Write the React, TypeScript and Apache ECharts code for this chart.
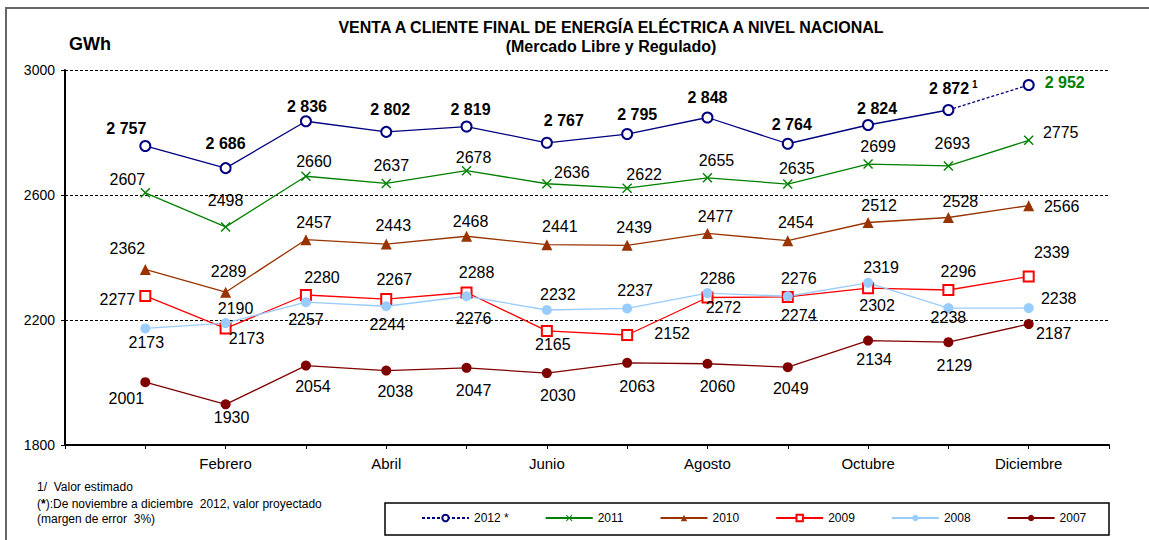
import React, { useEffect, useRef } from "react";
import * as echarts from "echarts";

const FONT = "'Liberation Sans', Arial, Helvetica, sans-serif";

const months = ["Enero", "Febrero", "Marzo", "Abril", "Mayo", "Junio", "Julio", "Agosto", "Septiembre", "Octubre", "Noviembre", "Diciembre"];
const yTicks = [1800, 2200, 2600, 3000];

// 2012: Jan–Nov real/estimated, Dec projected
const v2012 = [2757, 2686, 2836, 2802, 2819, 2767, 2795, 2848, 2764, 2824, 2872, 2952];
const v2011 = [2607, 2498, 2660, 2637, 2678, 2636, 2622, 2655, 2635, 2699, 2693, 2775];
const v2010 = [2362, 2289, 2457, 2443, 2468, 2441, 2439, 2477, 2454, 2512, 2528, 2566];
const v2009 = [2277, 2173, 2280, 2267, 2288, 2165, 2152, 2272, 2274, 2302, 2296, 2339];
const v2008 = [2173, 2190, 2257, 2244, 2276, 2232, 2237, 2286, 2276, 2319, 2238, 2238];
const v2007 = [2001, 1930, 2054, 2038, 2047, 2030, 2063, 2060, 2049, 2134, 2129, 2187];

// label offsets (style only)
const off2012 = [[-19, -17], [0, -25], [1, -15], [4, -22], [4, -17], [17, -22], [10, -20], [0, -20], [4, -19], [9, -17], [5, -22], [36, -3]];
const off2011 = [[-18, -13], [0, -26], [8, -15], [5, -18], [7, -13], [25, -11], [17, -14], [9, -17], [9, -16], [10, -18], [4, -22], [32, -8]];
const off2010 = [[-18, -21], [3, -21], [8, -17], [7, -19], [4, -15], [13, -18], [7, -18], [8, -17], [8, -18], [11, -17], [12, -16], [33, 1]];
const off2009 = [[-28, 4], [21, 10], [16, -18], [8, -20], [10, -20], [6, 14], [45, -2], [16, 10], [11, 19], [9, 17], [10, -19], [23, -24]];
const off2008 = [[1, 14], [10, -15], [0, 17], [1, 18], [7, 22], [11, -16], [8, -18], [10, -15], [11, -18], [13, -15], [0, 9], [30, -10]];
const off2007 = [[-19, 16], [6, 13], [7, 21], [9, 21], [7, 23], [11, 22], [10, 24], [10, 23], [3, 21], [6, 19], [6, 23], [25, 9]];

const fmtThousands = (v: number) => {
  const s = String(Math.round(v));
  return s.length > 3 ? s.slice(0, s.length - 3) + " " + s.slice(s.length - 3) : s;
};

const X_PATH = "path://M1,0 L5,4 L9,0 L10,1 L6,5 L10,9 L9,10 L5,6 L1,10 L0,9 L4,5 L0,1 Z";

function buildData(values: number[], offsets: number[][], from = 0, to = values.length) {
  const out: any[] = [];
  for (let i = from; i < to; i++) {
    out.push({ value: [i + 1, values[i]], label: { offset: offsets[i] } });
  }
  return out;
}

export default function App() {
  const ref = useRef<HTMLDivElement>(null);

  useEffect(() => {
    if (!ref.current) return;
    const chart = echarts.init(ref.current, undefined, { renderer: "svg" });

    const baseLabel = {
      show: true,
      position: "inside",
      fontSize: 16,
      fontFamily: FONT,
      color: "#000",
      align: "center",
      verticalAlign: "middle",
    };

    const lineSeries = (name: string, values: number[], offsets: number[][], color: string, symbol: string, symbolSize: number, extra: any = {}) => ({
      name,
      type: "line",
      data: buildData(values, offsets),
      symbol,
      symbolSize,
      lineStyle: { color, width: 1.3 },
      itemStyle: { color, borderColor: color, borderWidth: 1.3 },
      label: { ...baseLabel, formatter: (p: any) => String(p.value[1]) },
      emphasis: { disabled: true },
      ...extra,
    });

    const data2012solid = buildData(v2012, off2012, 0, 11);
    const data2012dash = [
      { value: [11, v2012[10]], symbol: "none", label: { show: false } },
      { value: [12, v2012[11]], label: { offset: off2012[11], color: "#008000" } },
    ];

    const label2012 = {
      ...baseLabel,
      fontWeight: "bold",
      formatter: (p: any) =>
        p.dataIndex === 10 ? `{b|${fmtThousands(p.value[1])}}{s|1}` : fmtThousands(p.value[1]),
      rich: {
        b: { fontSize: 16, fontWeight: "bold", fontFamily: FONT, color: "#000", lineHeight: 18 },
        s: { fontSize: 10, fontWeight: "bold", fontFamily: FONT, color: "#000", verticalAlign: "top", padding: [0, 0, 0, 3] },
      },
    };

    const option: any = {
      animation: false,
      backgroundColor: "#fff",
      grid: { left: 65, right: 40, top: 70, bottom: 95, containLabel: false },
      xAxis: {
        type: "value",
        min: 0,
        max: 13,
        interval: 1,
        axisLine: { show: true, lineStyle: { color: "#000", width: 2 } },
        axisTick: { show: true, length: 4, lineStyle: { color: "#000", width: 1 } },
        splitLine: { show: false },
        axisLabel: {
          show: true,
          margin: 11,
          fontSize: 15,
          fontFamily: FONT,
          color: "#000",
          showMinLabel: true,
          showMaxLabel: true,
          formatter: (v: number) => (v >= 1 && v <= 12 && v % 2 === 0 ? months[v - 1] : ""),
        },
      },
      yAxis: {
        type: "value",
        min: yTicks[0],
        max: yTicks[yTicks.length - 1],
        interval: yTicks[1] - yTicks[0],
        axisLine: { show: true, lineStyle: { color: "#000", width: 2 } },
        axisTick: { show: true, length: 4, lineStyle: { color: "#000", width: 1 } },
        splitLine: { show: true, lineStyle: { color: "#000", width: 1, type: [3, 2] } },
        axisLabel: { margin: 10, fontSize: 14, fontFamily: FONT, color: "#000", formatter: (v: number) => String(v) },
      },
      legend: {
        data: ["2012 *", "2011", "2010", "2009", "2008", "2007"],
        left: 421,
        top: 512,
        padding: 0,
        itemWidth: 47,
        itemHeight: 8,
        itemGap: 36,
        textStyle: { fontSize: 12, fontFamily: FONT, color: "#000" },
        selectedMode: false,
      },
      graphic: [
        {
          type: "rect",
          shape: { x: 6, y: 8, width: 1170, height: 570 },
          style: { fill: "none", stroke: "#666", lineWidth: 2 },
          silent: true,
        },
        {
          type: "text",
          x: 611,
          y: 27,
          style: {
            text: "VENTA A CLIENTE FINAL DE ENERGÍA ELÉCTRICA A NIVEL NACIONAL",
            font: `bold 16px ${FONT}`,
            fill: "#000",
            align: "center",
            verticalAlign: "middle",
          },
        },
        {
          type: "text",
          x: 611,
          y: 46,
          style: {
            text: "(Mercado Libre y Regulado)",
            font: `bold 16px ${FONT}`,
            fill: "#000",
            align: "center",
            verticalAlign: "middle",
          },
        },
        {
          type: "text",
          x: 69,
          y: 44,
          style: { text: "GWh", font: `bold 18px ${FONT}`, fill: "#000", align: "left", verticalAlign: "middle" },
        },
        {
          type: "text",
          x: 37,
          y: 487,
          style: { text: "1/  Valor estimado", font: `12px ${FONT}`, fill: "#000", align: "left", verticalAlign: "middle" },
        },
        {
          type: "text",
          x: 37,
          y: 504,
          style: {
            text: "({st|*}):De noviembre a diciembre  2012, valor proyectado",
            font: `12px ${FONT}`,
            fill: "#000",
            align: "left",
            verticalAlign: "middle",
            rich: { st: { font: `bold 12px ${FONT}`, fill: "#000" } },
          },
        },
        {
          type: "text",
          x: 37,
          y: 519,
          style: { text: "(margen de error  3%)", font: `12px ${FONT}`, fill: "#000", align: "left", verticalAlign: "middle" },
        },
        {
          type: "rect",
          shape: { x: 385, y: 503, width: 724, height: 32 },
          style: { fill: "none", stroke: "#000", lineWidth: 1.5 },
          silent: true,
        },
      ],
      series: [
        {
          name: "2012",
          type: "line",
          data: data2012solid,
          symbol: "emptyCircle",
          symbolSize: 10,
          z: 10,
          lineStyle: { color: "#000080", width: 1.3 },
          itemStyle: { color: "#000080", borderColor: "#000080", borderWidth: 1.3 },
          label: label2012,
          emphasis: { disabled: true },
        },
        {
          name: "2012 *",
          type: "line",
          data: data2012dash,
          symbol: "emptyCircle",
          symbolSize: 10,
          z: 10,
          lineStyle: { color: "#000080", width: 1.3, type: [3, 2] },
          itemStyle: { color: "#000080", borderColor: "#000080", borderWidth: 1.3 },
          label: { ...label2012, color: "#008000" },
          emphasis: { disabled: true },
        },
        lineSeries("2011", v2011, off2011, "#008000", X_PATH, 10, {
          itemStyle: { color: "#008000" },
        }),
        lineSeries("2010", v2010, off2010, "#993300", "triangle", 11, {
          itemStyle: { color: "#993300" },
        }),
        lineSeries("2009", v2009, off2009, "#FF0000", "emptyRect", 10),
        lineSeries("2008", v2008, off2008, "#99CCFF", "circle", 10, {
          itemStyle: { color: "#99CCFF" },
        }),
        lineSeries("2007", v2007, off2007, "#800000", "circle", 10, {
          itemStyle: { color: "#800000" },
        }),
      ],
    };

    chart.setOption(option);
    return () => chart.dispose();
  }, []);

  return (
    <div
      ref={ref}
      style={{ position: "fixed", left: 0, top: 0, width: 1149, height: 540, background: "#fff" }}
    />
  );
}
